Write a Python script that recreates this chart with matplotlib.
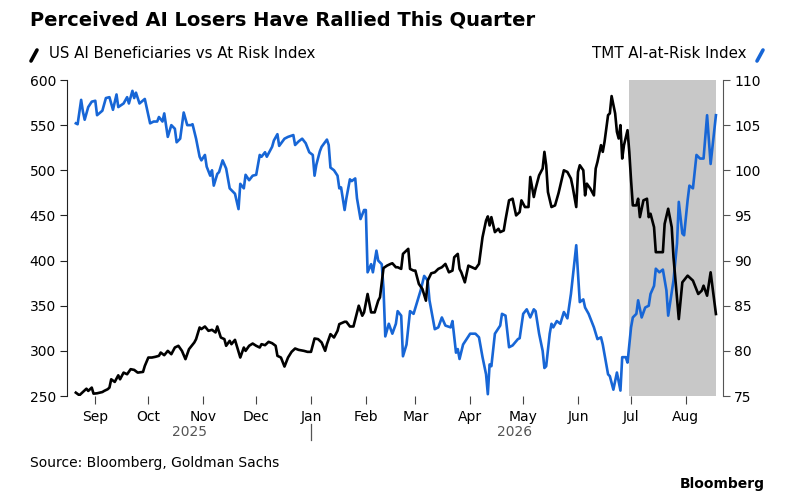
import pandas as pd
import matplotlib
matplotlib.use('Agg')
import matplotlib.pyplot as plt
import matplotlib.dates as mdates
from matplotlib.lines import Line2D

# US AI Beneficiaries vs At Risk Index (left axis)
pair_dates = [
    '2025-08-21', '2025-08-23', '2025-08-25', '2025-08-27', '2025-08-28', '2025-08-30', '2025-08-31',
    '2025-09-02', '2025-09-05', '2025-09-06', '2025-09-08', '2025-09-09', '2025-09-10', '2025-09-12',
    '2025-09-14', '2025-09-15', '2025-09-17', '2025-09-19', '2025-09-21', '2025-09-23', '2025-09-25',
    '2025-09-28', '2025-09-29', '2025-10-01', '2025-10-03', '2025-10-05', '2025-10-07', '2025-10-08',
    '2025-10-10', '2025-10-12', '2025-10-14', '2025-10-16', '2025-10-18', '2025-10-20', '2025-10-22',
    '2025-10-24', '2025-10-27', '2025-10-28', '2025-10-30', '2025-10-31', '2025-11-02', '2025-11-04',
    '2025-11-06', '2025-11-08', '2025-11-09', '2025-11-11', '2025-11-13', '2025-11-14', '2025-11-16',
    '2025-11-17', '2025-11-19', '2025-11-20', '2025-11-22', '2025-11-24', '2025-11-25', '2025-11-27',
    '2025-11-29', '2025-12-01', '2025-12-03', '2025-12-04', '2025-12-06', '2025-12-08', '2025-12-10',
    '2025-12-12', '2025-12-13', '2025-12-15', '2025-12-17', '2025-12-19', '2025-12-21', '2025-12-23',
    '2025-12-25', '2025-12-28', '2025-12-30', '2026-01-01', '2026-01-03', '2026-01-05', '2026-01-07',
    '2026-01-09', '2026-01-10', '2026-01-12', '2026-01-14', '2026-01-16', '2026-01-17', '2026-01-20',
    '2026-01-21', '2026-01-23', '2026-01-25', '2026-01-27', '2026-01-28', '2026-01-30', '2026-01-31',
    '2026-02-02', '2026-02-04', '2026-02-06', '2026-02-08', '2026-02-09', '2026-02-11', '2026-02-13',
    '2026-02-15', '2026-02-16', '2026-02-18', '2026-02-19', '2026-02-21', '2026-02-22', '2026-02-25',
    '2026-02-26', '2026-02-28', '2026-03-01', '2026-03-03', '2026-03-05', '2026-03-07', '2026-03-08',
    '2026-03-10', '2026-03-12', '2026-03-14', '2026-03-16', '2026-03-18', '2026-03-20', '2026-03-22',
    '2026-03-23', '2026-03-25', '2026-03-26', '2026-03-27', '2026-03-29', '2026-03-31', '2026-04-02',
    '2026-04-04', '2026-04-06', '2026-04-08', '2026-04-10', '2026-04-11', '2026-04-12', '2026-04-13',
    '2026-04-15', '2026-04-17', '2026-04-18', '2026-04-20', '2026-04-21', '2026-04-23', '2026-04-25',
    '2026-04-27', '2026-04-29', '2026-04-30', '2026-05-02', '2026-05-04', '2026-05-05', '2026-05-07',
    '2026-05-08', '2026-05-10', '2026-05-12', '2026-05-13', '2026-05-14', '2026-05-15', '2026-05-17',
    '2026-05-19', '2026-05-21', '2026-05-22', '2026-05-24', '2026-05-26', '2026-05-28', '2026-05-29',
    '2026-05-31', '2026-06-01', '2026-06-02', '2026-06-04', '2026-06-05', '2026-06-06', '2026-06-08',
    '2026-06-10', '2026-06-11', '2026-06-12', '2026-06-14', '2026-06-15', '2026-06-16', '2026-06-17',
    '2026-06-18', '2026-06-19', '2026-06-20', '2026-06-22', '2026-06-23', '2026-06-24', '2026-06-25',
    '2026-06-26', '2026-06-27', '2026-06-29', '2026-06-30', '2026-07-01', '2026-07-02', '2026-07-04',
    '2026-07-05', '2026-07-06', '2026-07-08', '2026-07-10', '2026-07-11', '2026-07-12', '2026-07-14',
    '2026-07-15', '2026-07-18', '2026-07-19', '2026-07-20', '2026-07-22', '2026-07-24', '2026-07-25',
    '2026-07-28', '2026-07-30', '2026-08-02', '2026-08-05', '2026-08-08', '2026-08-10', '2026-08-11',
    '2026-08-13', '2026-08-15', '2026-08-18',
]
pair_values = [
    253.7, 250.8, 254.4, 258.1, 255.6, 259.3, 252.6,
    253.0, 254.4, 255.6, 257.5, 259.3, 268.5, 265.6,
    272.9, 268.5, 275.9, 274.1, 279.7, 278.9, 275.9,
    276.7, 283.3, 292.6, 292.6, 293.4, 294.5, 298.1,
    295.2, 300.0, 296.3, 303.7, 305.6, 300.0, 290.8,
    301.9, 309.3, 313.0, 325.9, 324.1, 327.0, 322.2,
    323.3, 320.4, 327.0, 314.8, 313.0, 305.6, 311.1,
    307.4, 312.2, 305.6, 292.6, 303.7, 300.0, 305.6,
    308.1, 305.6, 303.7, 307.4, 306.3, 310.0, 308.5,
    305.6, 294.5, 292.6, 282.6, 292.6, 298.9, 302.6,
    301.1, 300.0, 298.9, 298.9, 313.7, 313.0, 309.3,
    300.0, 307.4, 318.5, 314.8, 322.2, 329.6, 332.2,
    332.2, 327.0, 327.0, 342.6, 350.0, 338.9, 342.6,
    363.0, 342.6, 342.6, 355.6, 359.3, 391.7, 394.4,
    396.3, 397.0, 392.6, 392.6, 390.8, 407.4, 413.0,
    390.8, 388.9, 388.9, 374.1, 368.5, 355.6, 377.8,
    385.9, 387.0, 390.8, 392.6, 396.3, 387.0, 388.9,
    403.7, 407.4, 390.8, 387.0, 375.9, 394.4, 392.6,
    390.8, 396.3, 425.9, 444.4, 448.9, 438.9, 448.1,
    431.5, 435.2, 431.5, 433.3, 445.2, 466.7, 468.5,
    450.0, 453.7, 466.7, 459.3, 459.3, 492.6, 470.4,
    479.6, 494.4, 501.9, 520.4, 505.6, 475.9, 459.3,
    461.1, 474.8, 483.3, 500.0, 498.1, 490.8, 481.5,
    459.3, 498.1, 505.6, 500.0, 472.2, 485.2, 479.6,
    472.2, 501.9, 509.3, 527.8, 520.4, 531.5, 546.3,
    561.1, 563.0, 582.2, 563.0, 542.6, 535.2, 550.0,
    513.0, 527.8, 544.4, 520.4, 488.9, 461.1, 461.1,
    468.5, 448.1, 466.7, 468.5, 448.1, 451.9, 437.0,
    409.3, 409.3, 409.3, 440.7, 457.4, 437.0, 403.7,
    335.2, 375.9, 383.3, 377.8, 363.0, 366.7, 372.2,
    361.1, 387.0, 340.8,
]

# TMT AI-at-Risk Index (right axis)
risk_dates = [
    '2025-08-21', '2025-08-22', '2025-08-24', '2025-08-25', '2025-08-26', '2025-08-28', '2025-08-30',
    '2025-09-01', '2025-09-02', '2025-09-05', '2025-09-07', '2025-09-09', '2025-09-11', '2025-09-13',
    '2025-09-14', '2025-09-17', '2025-09-19', '2025-09-20', '2025-09-22', '2025-09-23', '2025-09-24',
    '2025-09-26', '2025-09-29', '2025-09-30', '2025-10-02', '2025-10-04', '2025-10-06', '2025-10-07',
    '2025-10-09', '2025-10-10', '2025-10-12', '2025-10-14', '2025-10-16', '2025-10-17', '2025-10-19',
    '2025-10-21', '2025-10-23', '2025-10-25', '2025-10-26', '2025-10-28', '2025-10-30', '2025-10-31',
    '2025-11-02', '2025-11-03', '2025-11-05', '2025-11-06', '2025-11-07', '2025-11-09', '2025-11-10',
    '2025-11-12', '2025-11-14', '2025-11-16', '2025-11-19', '2025-11-21', '2025-11-22', '2025-11-24',
    '2025-11-25', '2025-11-27', '2025-11-29', '2025-12-01', '2025-12-03', '2025-12-04', '2025-12-06',
    '2025-12-07', '2025-12-10', '2025-12-11', '2025-12-13', '2025-12-14', '2025-12-17', '2025-12-19',
    '2025-12-22', '2025-12-23', '2025-12-25', '2025-12-27', '2025-12-29', '2025-12-31', '2026-01-02',
    '2026-01-03', '2026-01-04', '2026-01-06', '2026-01-07', '2026-01-10', '2026-01-11', '2026-01-12',
    '2026-01-14', '2026-01-16', '2026-01-17', '2026-01-18', '2026-01-20', '2026-01-21', '2026-01-23',
    '2026-01-24', '2026-01-26', '2026-01-27', '2026-01-29', '2026-01-31', '2026-02-01', '2026-02-02',
    '2026-02-04', '2026-02-05', '2026-02-07', '2026-02-08', '2026-02-10', '2026-02-11', '2026-02-12',
    '2026-02-14', '2026-02-16', '2026-02-18', '2026-02-19', '2026-02-21', '2026-02-22', '2026-02-24',
    '2026-02-26', '2026-02-28', '2026-03-02', '2026-03-04', '2026-03-06', '2026-03-08', '2026-03-09',
    '2026-03-12', '2026-03-14', '2026-03-16', '2026-03-18', '2026-03-21', '2026-03-22', '2026-03-24',
    '2026-03-25', '2026-03-26', '2026-03-28', '2026-03-30', '2026-04-01', '2026-04-04', '2026-04-06',
    '2026-04-08', '2026-04-10', '2026-04-11', '2026-04-12', '2026-04-13', '2026-04-15', '2026-04-18',
    '2026-04-19', '2026-04-21', '2026-04-23', '2026-04-25', '2026-04-28', '2026-04-29', '2026-05-01',
    '2026-05-03', '2026-05-05', '2026-05-07', '2026-05-08', '2026-05-10', '2026-05-12', '2026-05-13',
    '2026-05-14', '2026-05-16', '2026-05-17', '2026-05-18', '2026-05-20', '2026-05-22', '2026-05-24',
    '2026-05-26', '2026-05-28', '2026-05-31', '2026-06-01', '2026-06-02', '2026-06-04', '2026-06-05',
    '2026-06-07', '2026-06-10', '2026-06-12', '2026-06-14', '2026-06-15', '2026-06-17', '2026-06-18',
    '2026-06-19', '2026-06-21', '2026-06-23', '2026-06-25', '2026-06-26', '2026-06-28', '2026-06-29',
    '2026-07-01', '2026-07-02', '2026-07-04', '2026-07-05', '2026-07-07', '2026-07-09', '2026-07-11',
    '2026-07-12', '2026-07-14', '2026-07-15', '2026-07-17', '2026-07-19', '2026-07-21', '2026-07-22',
    '2026-07-25', '2026-07-27', '2026-07-28', '2026-07-30', '2026-07-31', '2026-08-02', '2026-08-03',
    '2026-08-05', '2026-08-07', '2026-08-09', '2026-08-11', '2026-08-13', '2026-08-15', '2026-08-18',
]
risk_values = [
    105.2, 105.1, 107.8, 106.5, 105.6, 107.0, 107.6,
    107.7, 106.1, 106.6, 108.0, 108.1, 106.7, 108.4,
    107.0, 107.4, 108.1, 107.4, 108.8, 108.0, 108.6,
    107.4, 107.9, 107.0, 105.2, 105.4, 105.4, 105.9,
    105.4, 106.3, 103.7, 105.0, 104.6, 103.1, 103.5,
    106.4, 105.0, 105.0, 105.1, 103.5, 101.5, 101.1,
    101.7, 100.4, 99.4, 100.0, 98.3, 99.6, 99.8,
    101.1, 100.2, 98.0, 97.4, 95.7, 98.5, 98.0,
    99.5, 98.9, 99.4, 99.5, 101.7, 101.5, 102.0,
    101.5, 102.6, 103.3, 104.0, 102.7, 103.5, 103.7,
    103.9, 102.8, 103.2, 103.5, 103.0, 102.0, 101.7,
    99.4, 100.6, 102.1, 102.6, 103.4, 102.8, 100.3,
    100.0, 99.4, 98.0, 98.1, 95.6, 96.9, 99.0,
    98.8, 99.1, 96.9, 94.6, 95.6, 95.6, 88.7,
    89.6, 88.7, 91.1, 90.0, 89.6, 86.9, 81.6,
    83.0, 81.9, 83.0, 84.4, 83.9, 79.4, 80.7,
    84.4, 84.1, 85.4, 86.7, 88.3, 87.8, 85.6,
    82.4, 82.6, 83.7, 82.8, 82.6, 83.3, 79.8,
    80.2, 79.1, 80.7, 81.3, 81.9, 81.9, 81.5,
    79.3, 77.4, 75.2, 78.5, 78.3, 81.9, 82.8,
    84.1, 83.9, 80.4, 80.6, 81.3, 81.4, 84.1,
    84.6, 83.7, 84.6, 84.4, 81.9, 80.0, 78.1,
    78.3, 81.9, 83.0, 82.6, 83.3, 83.0, 84.3,
    83.6, 86.3, 91.7, 88.5, 85.4, 85.7, 84.8,
    84.1, 82.6, 81.3, 81.5, 80.7, 78.5, 77.4,
    77.2, 75.7, 77.6, 75.6, 79.3, 79.3, 78.7,
    82.6, 83.7, 84.1, 85.6, 83.7, 84.8, 85.0,
    86.3, 87.2, 89.1, 88.7, 89.0, 86.7, 83.9,
    87.8, 91.9, 96.5, 93.0, 92.8, 96.7, 98.3,
    98.0, 101.7, 101.3, 101.3, 106.1, 100.7, 106.1,
]

month_labels = ['Sep', 'Oct', 'Nov', 'Dec', 'Jan', 'Feb', 'Mar', 'Apr', 'May', 'Jun', 'Jul', 'Aug']
quarter_start = '2026-06-30'

pair_dates = pd.to_datetime(pair_dates)
risk_dates = pd.to_datetime(risk_dates)

blue = '#1766d6'
plt.rcParams['font.family'] = ['DejaVu Sans']

fig = plt.figure(figsize=(7.85, 5.0), dpi=100)
ax = fig.add_axes([67 / 785, 1 - 396 / 500, (723 - 67) / 785, (396 - 80) / 500])
ax2 = ax.twinx()

# shaded current quarter, behind both lines
ax2.axvspan(pd.Timestamp(quarter_start), risk_dates[-1], color='#c8c8c8', lw=0, zorder=0)
ax2.plot(risk_dates, risk_values, color=blue, lw=1.9, zorder=2)
ax.plot(pair_dates, pair_values, color='black', lw=1.9, zorder=3)

# black line above the blue one
ax.set_zorder(ax2.get_zorder() + 1)
ax.patch.set_visible(False)

ax.set_xlim(pd.Timestamp('2025-08-16'), pd.Timestamp('2026-08-22'))
ax.set_ylim(250, 600)
ax2.set_ylim(75, 110)
ax.set_yticks(range(250, 601, 50))
ax2.set_yticks(range(75, 111, 5))

for a in (ax, ax2):
    for s in ('top', 'bottom'):
        a.spines[s].set_visible(False)
ax.spines['right'].set_visible(False)
ax2.spines['left'].set_visible(False)
ax.spines['left'].set_color('#222222')
ax2.spines['right'].set_color('#555555')

ax.xaxis.set_major_locator(mdates.MonthLocator())
ax.set_xticks(ax.get_xticks())
ax.set_xticklabels(month_labels)
ax.tick_params(axis='x', length=6, width=0.8, color='#444444', pad=4, labelsize=10)
ax.tick_params(axis='y', length=5, width=0.8, color='#222222', pad=3, labelsize=10)
ax2.tick_params(axis='y', length=5, width=0.8, color='#555555', pad=3, labelsize=10)

# year labels under the months
ax.text(pd.Timestamp('2025-10-24'), -0.115, '2025', transform=ax.get_xaxis_transform(),
        ha='center', va='center', fontsize=10, color='#555555')
ax.text(pd.Timestamp('2026-04-26'), -0.115, '2026', transform=ax.get_xaxis_transform(),
        ha='center', va='center', fontsize=10, color='#555555')
ax.plot([pd.Timestamp('2026-01-01')] * 2, [-0.09, -0.14], transform=ax.get_xaxis_transform(),
        color='#555555', lw=0.9, clip_on=False)

# titles and legend keys
fig.text(30 / 785, 1 - 20 / 500, 'Perceived AI Losers Have Rallied This Quarter',
         fontsize=14, fontweight='heavy', va='center', ha='left')
fig.add_artist(Line2D([31 / 785, 37 / 785], [1 - 61 / 500, 1 - 50 / 500], color='black',
                      lw=2.6, solid_capstyle='round'))
fig.text(49 / 785, 1 - 54 / 500, 'US AI Beneficiaries vs At Risk Index', fontsize=10.8, va='center', ha='left')
fig.add_artist(Line2D([757 / 785, 763 / 785], [1 - 61 / 500, 1 - 50 / 500], color=blue,
                      lw=2.6, solid_capstyle='round'))
fig.text(746 / 785, 1 - 54 / 500, 'TMT AI-at-Risk Index', fontsize=10.8, va='center', ha='right')

fig.text(30 / 785, 1 - 463 / 500, 'Source: Bloomberg, Goldman Sachs', fontsize=10, va='center', ha='left')
fig.text(765 / 785, 1 - 484 / 500, 'Bloomberg', fontsize=10, fontweight='bold', va='center', ha='right')

fig.savefig('out.png', dpi=100)
